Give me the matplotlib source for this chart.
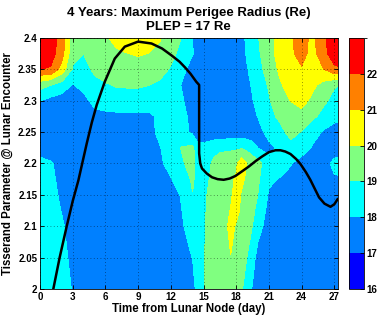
import matplotlib
matplotlib.use("Agg")
import matplotlib.pyplot as plt
from matplotlib.colors import ListedColormap, BoundaryNorm

plt.rcParams['font.family'] = ['Liberation Sans', 'DejaVu Sans']
plt.rcParams['font.weight'] = 'bold'

# grid of the contour map (days from lunar node x Tisserand parameter)
days = [0, 1, 2, 3, 4, 5, 6, 7, 8, 9, 10, 11, 12, 13, 14, 14.5, 15, 15.5, 16, 16.5,
        17, 17.5, 18, 18.5, 19, 19.5, 20, 21, 22, 23, 24, 25, 26, 27, 27.3]
tisserand = [2.0, 2.05, 2.1, 2.125, 2.15, 2.175, 2.2, 2.225, 2.25, 2.275, 2.3, 2.325, 2.35,
             2.375, 2.4]

# maximum perigee radius (Re), one row per Tisserand value
rp_max = [
    [18.6, 18.5, 18.35, 17.95, 17.5, 17.5, 17.5, 17.5, 17.5, 17.5, 17.5, 17.5, 17.5, 17.6, 17.6,
     18.45, 18.85, 19.5, 19.7, 19.8, 19.8, 19.7, 19.5, 19.1, 18.5, 17.9, 17.5,
     17.5, 17.5, 17.5, 17.5, 17.5, 17.5, 17.5, 17.5],
    [18.6, 18.45, 18.25, 17.8, 17.5, 17.5, 17.5, 17.5, 17.5, 17.5, 17.5, 17.5, 17.5, 17.7, 18.02,
     18.6, 18.85, 19.5, 19.7, 19.85, 19.96, 19.97, 19.7, 19.4, 18.98, 18.4, 17.6,
     17.5, 17.5, 17.5, 17.5, 17.5, 17.5, 17.5, 17.5],
    [18.6, 18.4, 18.12, 17.6, 17.5, 17.5, 17.5, 17.5, 17.5, 17.5, 17.5, 17.5, 17.5, 17.9, 18.4,
     18.7, 18.85, 19.3, 19.6, 19.7, 19.8, 20.3, 19.9, 19.6, 19.35, 18.98, 18.4,
     17.5, 17.5, 17.5, 17.5, 17.5, 17.5, 17.5, 17.5],
    [18.58, 18.38, 17.96, 17.55, 17.5, 17.5, 17.5, 17.5, 17.5, 17.5, 17.5, 17.5, 17.5, 17.98, 18.7,
     18.7, 18.8, 19.22, 19.6, 19.72, 19.75, 20.05, 20.3, 19.8, 19.5, 19.2, 18.7,
     17.7, 17.5, 17.5, 17.5, 17.5, 17.5, 17.5, 17.5],
    [18.55, 18.35, 17.8, 17.5, 17.5, 17.5, 17.5, 17.5, 17.5, 17.5, 17.5, 17.5, 17.5, 18.1, 18.97,
     18.7, 18.75, 19.15, 19.6, 19.75, 19.8, 19.85, 20.4, 19.9, 19.6, 19.4, 18.98,
     17.9, 17.5, 17.5, 17.5, 17.5, 17.5, 17.5, 17.5],
    [18.48, 18.22, 17.7, 17.5, 17.5, 17.5, 17.5, 17.5, 17.5, 17.5, 17.5, 17.65, 17.95, 18.5, 19.13,
     18.65, 18.62, 18.98, 19.45, 19.68, 19.75, 19.85, 20.1, 20.2, 19.8, 19.5, 19.14,
     18.15, 17.95, 17.78, 17.55, 17.5, 17.55, 17.88, 17.9],
    [18.4, 18.1, 17.6, 17.5, 17.5, 17.5, 17.5, 17.5, 17.5, 17.5, 17.5, 17.8, 18.4, 18.9, 19.3,
     18.6, 18.5, 18.8, 19.3, 19.6, 19.7, 19.75, 19.85, 20.6, 19.98, 19.6, 19.3,
     18.4, 18.4, 18.05, 17.6, 17.5, 17.6, 18.25, 18.3],
    [17.4, 17.4, 17.4, 17.4, 17.4, 17.4, 17.4, 17.4, 17.4, 17.4, 17.6, 17.95, 18.5, 19.05, 19.2,
     18.3, 18.3, 18.4, 18.6, 18.7, 18.75, 18.8, 18.85, 18.9, 18.7, 18.4, 17.98,
     17.7, 18.2, 18.7, 18.5, 17.9, 17.5, 17.5, 17.5],
    [17.5, 17.5, 17.5, 17.5, 17.5, 17.5, 17.5, 17.5, 17.5, 17.5, 17.6, 18.3, 18.5, 18.4, 17.8,
     17.4, 17.4, 17.4, 17.4, 17.4, 17.4, 17.4, 17.4, 17.4, 17.4, 17.4, 17.6,
     18.4, 18.7, 19.3, 18.95, 18.4, 17.9, 17.6, 17.6],
    [17.4, 17.4, 17.5, 17.5, 17.6, 17.7, 17.8, 17.85, 17.85, 17.85, 17.85, 18.15, 18.5, 18.3, 17.7,
     17.4, 17.4, 17.4, 17.4, 17.4, 17.4, 17.4, 17.4, 17.4, 17.4, 17.7, 18.05,
     18.7, 19.2, 19.6, 19.7, 19.2, 18.7, 18.3, 18.25],
    [18.02, 17.7, 17.5, 17.3, 17.7, 18.3, 18.4, 18.4, 18.4, 18.4, 18.4, 18.6, 18.6, 18.1, 17.6,
     17.4, 17.4, 17.4, 17.4, 17.4, 17.4, 17.4, 17.4, 17.4, 17.6, 17.95, 18.4,
     18.9, 19.6, 20.02, 20.3, 19.8, 19.2, 18.7, 18.6],
    [19.4, 19.02, 18.6, 17.95, 18.3, 18.7, 18.9, 19.1, 19.15, 19.15, 19.02, 18.8, 18.5, 17.95, 17.5,
     17.4, 17.4, 17.4, 17.4, 17.4, 17.4, 17.4, 17.4, 17.4, 17.7, 18.15, 18.5,
     19.1, 19.85, 20.5, 20.6, 20.2, 19.7, 19.1, 19.05],
    [22.02, 21.9, 20.6, 18.9, 18.6, 19.2, 19.5, 19.5, 19.6, 19.6, 19.5, 19.4, 18.9, 18.3, 17.6,
     17.5, 17.4, 17.4, 17.4, 17.4, 17.4, 17.4, 17.4, 17.5, 17.95, 18.3, 18.75,
     19.3, 20.2, 20.7, 20.9, 20.5, 20.95, 21.8, 21.85],
    [22.6, 22.4, 21.4, 19.3, 19.02, 19.5, 19.8, 19.85, 19.98, 20.1, 19.98, 19.7, 19.3, 18.7, 18.05,
     17.7, 17.4, 17.4, 17.4, 17.4, 17.4, 17.4, 17.5, 17.7, 18.1, 18.5, 18.85,
     19.6, 20.4, 20.8, 21.4, 20.6, 21.7, 22.5, 22.6],
    [22.8, 22.5, 21.6, 19.3, 19.1, 19.6, 19.85, 20.3, 20.6, 20.75, 20.6, 20.1, 19.3, 18.98, 17.98,
     17.6, 17.4, 17.4, 17.4, 17.4, 17.4, 17.4, 17.45, 17.5, 18.35, 18.7, 18.95,
     19.7, 20.25, 20.9, 21.4, 20.75, 21.75, 22.7, 22.8],
]

# black curve
curve_days = [1.22, 1.8, 2.45, 3.0, 3.52, 4.29, 4.75, 5.2, 5.94, 6.86, 7.78, 9.0, 10.23, 11.2,
              12.07, 12.8, 13.3, 13.8, 14.34, 14.6, 14.6, 14.7, 14.86, 15.3, 15.78, 16.3, 16.85,
              17.4, 17.92, 18.5, 19.15, 19.8, 20.37, 21.0, 21.6, 22.06, 22.5, 22.98, 23.5, 23.9,
              24.4, 24.8, 25.2, 25.6, 26.1, 26.65, 27.0, 27.3]
curve_tiss = [2.0, 2.05, 2.1, 2.14, 2.173, 2.232, 2.265, 2.293, 2.33, 2.367, 2.386, 2.394, 2.391,
              2.383, 2.372, 2.362, 2.353, 2.343, 2.33, 2.325, 2.216, 2.2, 2.192, 2.184, 2.178,
              2.175, 2.174, 2.176, 2.18, 2.187, 2.195, 2.204, 2.211, 2.218, 2.221, 2.221, 2.219,
              2.215, 2.207, 2.199, 2.186, 2.174, 2.16, 2.146, 2.136, 2.131, 2.135, 2.143]

levels = [16, 17, 18, 19, 20, 21, 22, 23]
band_colors = ['#0000ff', '#0080ff', '#00ffff', '#80ff80', '#ffff00', '#ff8000', '#ff0000']
x_ticks = [0, 3, 6, 9, 12, 15, 18, 21, 24, 27]
y_ticks = [2.0, 2.05, 2.1, 2.15, 2.2, 2.25, 2.3, 2.35, 2.4]
y_ticklabels = ['2', '2.05', '2.1', '2.15', '2.2', '2.25', '2.3', '2.35', '2.4']

cmap = ListedColormap(band_colors)
norm = BoundaryNorm(levels, cmap.N)

fig = plt.figure(figsize=(3.81, 3.18), dpi=100)
ax = fig.add_axes([0.105, 0.091, 0.781, 0.790])
cax = fig.add_axes([0.916, 0.091, 0.039, 0.790])

cs = ax.contourf(days, tisserand, rp_max, levels=levels, cmap=cmap, norm=norm)
ax.plot(curve_days, curve_tiss, color='k', lw=1.8, zorder=3)

ax.set_xlim(0, 27.3)
ax.set_ylim(2.0, 2.4)
ax.set_xticks(x_ticks)
ax.set_yticks(y_ticks)
ax.set_yticklabels(y_ticklabels)
ax.grid(True, linestyle=(0, (1, 3)), color='k', lw=0.6, alpha=0.55)
ax.tick_params(direction='in', top=True, right=True, length=3, width=0.6, labelsize=7, pad=2)
for s in ax.spines.values():
    s.set_linewidth(0.6)

ax.set_xlabel('Time from Lunar Node (day)', fontsize=8.3, fontweight='bold', labelpad=1)
ax.set_ylabel('Tisserand Parameter @ Lunar Encounter', fontsize=8.3, fontweight='bold', labelpad=3)
ax.set_title('4 Years: Maximum Perigee Radius (Re)\nPLEP = 17 Re', fontsize=9.5, fontweight='bold',
             pad=6, linespacing=1.2)

cb = fig.colorbar(cs, cax=cax, ticks=[16, 17, 18, 19, 20, 21, 22])
cb.ax.tick_params(direction='in', length=3, width=0.6, labelsize=7, pad=2)
cb.outline.set_linewidth(0.6)

fig.savefig('out.png', dpi=100)
